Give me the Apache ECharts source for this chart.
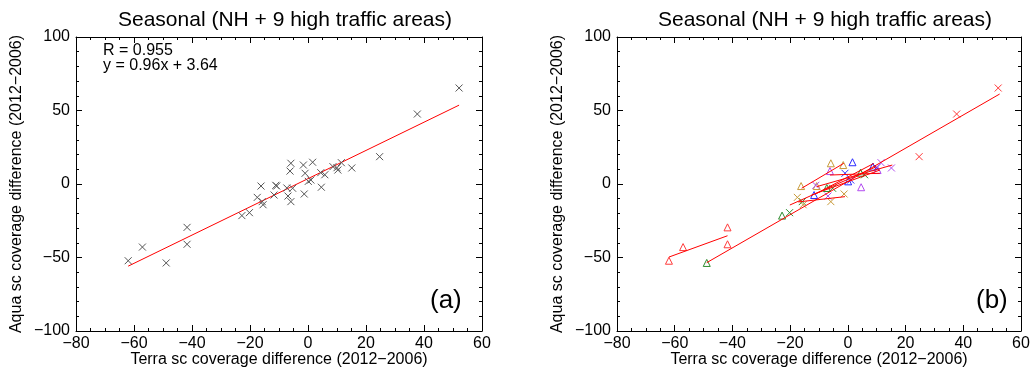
<!DOCTYPE html>
<html>
<head>
<meta charset="utf-8">
<script src="https://cdn.jsdelivr.net/npm/echarts@6/dist/echarts.min.js"></script>
<style>
  html, body { margin: 0; padding: 0; background: #fff; }
  #chart { width: 1030px; height: 370px; }
</style>
</head>
<body>
<div id="chart"></div>
<script>
// Terra vs Aqua seasonal coverage differences (2012-2006)
const terraX = [52.1, 37.7, 24.7, 15.1, 11.5, 10.3, 10.0, 8.6, 5.8, 4.4,
  4.6, 1.6, 1.0, 0.1, -1.0, -1.6, -1.3, -5.3, -5.9, -6.2,
  -5.9, -6.9, -7.3, -10.8, -11.1, -11.7, -16.2, -17.5, -15.8, -15.5,
  -20.2, -22.8, -41.7, -41.7, -57.1, -48.9, -62.0];
const aquaY = [65.3, 47.6, 18.6, 10.9, 14.5, 9.5, 11.1, 11.8, 6.3, 7.7,
  -2.2, 14.8, 2.7, 1.8, 7.3, 12.9, -6.8, -2.9, 14.1, 8.8,
  -12.0, -8.2, -2.7, -1.4, -0.9, -7.5, -1.4, -9.1, -12.0, -14.1,
  -19.5, -21.5, -29.5, -41.0, -42.9, -53.7, -52.2];
// group of each point (panel b colour) and marker kind
const pointGroup = ['g1', 'g1', 'g1', 'g5', 'g5', 'g5', 'g4', 'g4', 'g2', 'g2',
  'g5', 'g4', 'g4', 'g4', 'g4', 'g3', 'g3', 'g2', 'g3', 'g5',
  'g3', 'g5', 'g2', 'g3', 'g5', 'g4', 'g3', 'g3', 'g2', 'g3',
  'g2', 'g2', 'g1', 'g1', 'g1', 'g2', 'g1'];
const pointKind = ['x', 'x', 'x', 'x', 'x', 'tri', 'x', 'tri', 'x', 'tri',
  'tri', 'tri', 'x', 'tri', 'x', 'tri', 'x', 'x', 'tri', 'tri',
  'x', 'x', 'tri', 'tri', 'x', 'tri', 'tri', 'x', 'x', 'x',
  'x', 'tri', 'tri', 'tri', 'tri', 'tri', 'tri'];

const fitR = 0.955;
const fitSlope = 0.96;
const fitIntercept = 3.64;

// panel (b) fit segments: [x1, y1, x2, y2]
const fitSegments = [
  [-62.0, -49.7, -41.7, -35.2],
  [-48.9, -53.5, 52.6, 61.2],
  [-16.0, -2.9, -1.4, 14.1],
  [-6.2, 6.1, 11.1, 7.3],
  [-17.2, -12.2, -1.0, -8.6],
  [-20.1, -14.3, 9.9, 11.8],
  [-12.6, -7.5, 11.1, 9.5],
  [-10.8, -1.8, 15.4, 12.9],
  [-11.0, -6.5, 9.0, 14.0]
];

const groupColors = { g1: '#ff3a3a', g2: '#2e8b2e', g3: '#c89a3a', g4: '#2a2aff', g5: '#b24cf0' };
const crossPath = 'path://M0,0L10,10M10,0L0,10';
const font = 'Liberation Sans, Arial, sans-serif';
const minus = (v) => String(v).replace('-', '\u2212');

const chart = echarts.init(document.getElementById('chart'), null, { renderer: 'canvas' });

const grids = [
  { left: 76, top: 37, width: 406, height: 294 },
  { left: 617, top: 37, width: 404, height: 294 }
];

const xAxes = [];
const yAxes = [];
grids.forEach((g, i) => {
  const common = {
    type: 'value',
    gridIndex: i,
    axisLine: { show: true, onZero: false, lineStyle: { color: '#000', width: 1 } },
    axisTick: { show: true, inside: true, length: 6, lineStyle: { color: '#000' } },
    minorTick: { show: true, length: 3, lineStyle: { color: '#000' } },
    splitLine: { show: false },
    minorSplitLine: { show: false }
  };
  xAxes.push(Object.assign({}, common, {
    position: 'bottom', min: -80, max: 60, interval: 20,
    minorTick: Object.assign({}, common.minorTick, { splitNumber: 4 }),
    axisLabel: { color: '#000', fontFamily: font, fontSize: 16, margin: 5, formatter: minus },
    name: 'Terra sc coverage difference (2012\u22122006)',
    nameLocation: 'middle', nameGap: 21, nameMoveOverlap: false,
    nameTextStyle: { color: '#000', fontFamily: font, fontSize: 16 }
  }));
  xAxes.push(Object.assign({}, common, {
    position: 'top', min: -80, max: 60, interval: 20,
    minorTick: Object.assign({}, common.minorTick, { splitNumber: 4 }),
    axisLabel: { show: false }
  }));
  yAxes.push(Object.assign({}, common, {
    position: 'left', min: -100, max: 100, interval: 50,
    minorTick: Object.assign({}, common.minorTick, { splitNumber: 5 }),
    axisLabel: { color: '#000', fontFamily: font, fontSize: 16, margin: 6, formatter: minus },
    name: 'Aqua sc coverage difference (2012\u22122006)',
    nameLocation: 'middle', nameGap: 51,
    nameTextStyle: { color: '#000', fontFamily: font, fontSize: 16 }
  }));
  yAxes.push(Object.assign({}, common, {
    position: 'right', min: -100, max: 100, interval: 50,
    minorTick: Object.assign({}, common.minorTick, { splitNumber: 5 }),
    axisLabel: { show: false }
  }));
});

const allPoints = terraX.map((x, i) => [x, aquaY[i]]);
const xMin = Math.min(...terraX);
const xMax = Math.max(...terraX);

const series = [
  {
    type: 'scatter', xAxisIndex: 0, yAxisIndex: 0,
    data: allPoints,
    symbol: crossPath, symbolSize: 7,
    itemStyle: { color: 'transparent', borderColor: '#555', borderWidth: 1, opacity: 1 },
    z: 3
  },
  {
    type: 'line', xAxisIndex: 0, yAxisIndex: 0,
    data: [[xMin, fitSlope * xMin + fitIntercept], [xMax, fitSlope * xMax + fitIntercept]],
    showSymbol: false, lineStyle: { color: '#ff0000', width: 1 }, z: 2
  }
];

fitSegments.forEach((s) => {
  series.push({
    type: 'line', xAxisIndex: 2, yAxisIndex: 2,
    data: [[s[0], s[1]], [s[2], s[3]]],
    showSymbol: false, lineStyle: { color: '#ff0000', width: 1 }, z: 4
  });
});

Object.keys(groupColors).forEach((g) => {
  ['x', 'tri'].forEach((k) => {
    const pts = allPoints.filter((p, i) => pointGroup[i] === g && pointKind[i] === k);
    if (!pts.length) return;
    series.push({
      type: 'scatter', xAxisIndex: 2, yAxisIndex: 2,
      data: pts,
      symbol: k === 'x' ? crossPath : 'triangle',
      symbolSize: 7,
      itemStyle: { color: 'transparent', borderColor: groupColors[g], borderWidth: 1, opacity: 1 },
      z: 3
    });
  });
});

const titleText = 'Seasonal (NH + 9 high traffic areas)';
const option = {
  animation: false,
  backgroundColor: '#fff',
  title: [
    { text: titleText, left: 280, top: 5, textAlign: 'center',
      textStyle: { fontFamily: font, fontSize: 21, fontWeight: 'normal', color: '#000' } },
    { text: titleText, left: 820, top: 5, textAlign: 'center',
      textStyle: { fontFamily: font, fontSize: 21, fontWeight: 'normal', color: '#000' } }
  ],
  grid: grids.map((g) => Object.assign({ show: false, outerBoundsMode: 'none', containLabel: false }, g)),
  xAxis: xAxes,
  yAxis: yAxes,
  series,
  graphic: [
    { type: 'text', left: 103, top: 43,
      style: { text: 'R = ' + fitR.toFixed(3) + '\ny = ' + fitSlope.toFixed(2) + 'x + ' + fitIntercept.toFixed(2),
        font: '16px ' + font, fill: '#000', lineHeight: 15 } },
    { type: 'text', left: 430, top: 288,
      style: { text: '(a)', font: '26px ' + font, fill: '#000' } },
    { type: 'text', left: 976, top: 288,
      style: { text: '(b)', font: '26px ' + font, fill: '#000' } }
  ]
};

chart.setOption(option);
window.addEventListener('resize', () => chart.resize());
</script>
</body>
</html>
